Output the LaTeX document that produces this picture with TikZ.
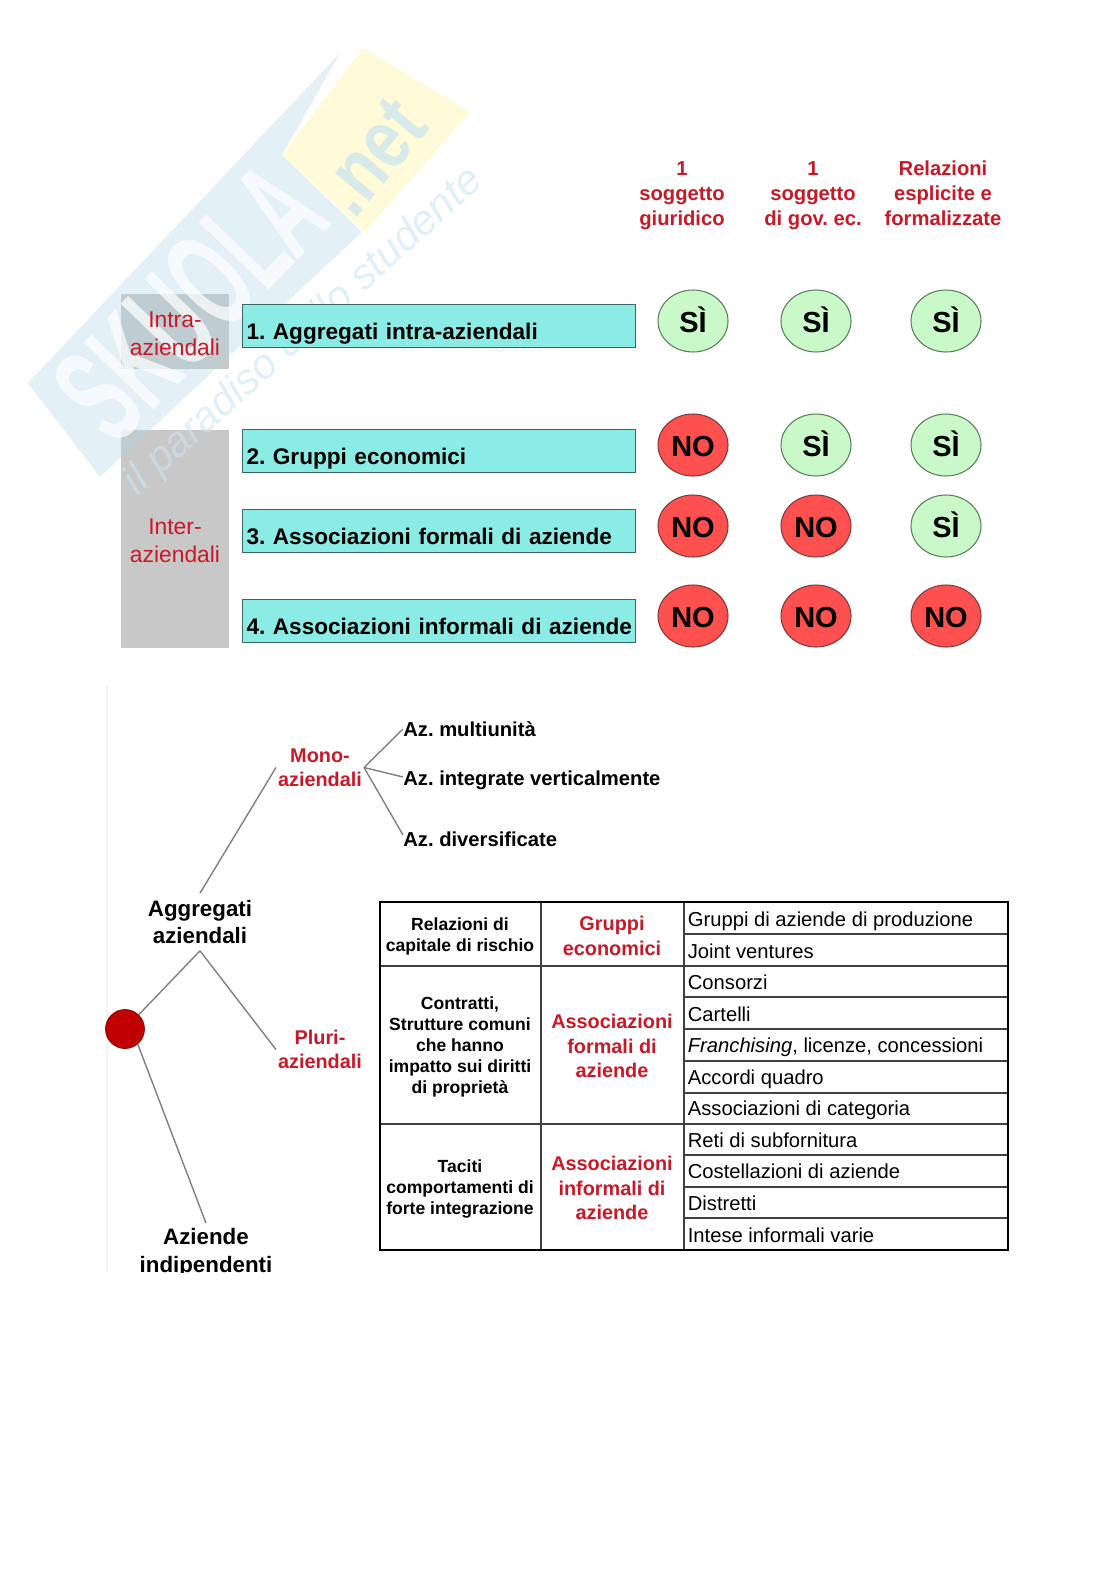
\documentclass[tikz,border=0pt]{standalone}
\usepackage{fontspec}
\setmainfont{Liberation Sans}
\usepackage{xcolor}
\usepackage{tikz}
\usetikzlibrary{shapes.geometric, positioning, calc}
\frenchspacing
\definecolor{myred}{RGB}{200,25,40}
\definecolor{mygrey}{RGB}{200,200,200}
\definecolor{myteal}{RGB}{139,236,229}
\definecolor{bordteal}{RGB}{60,100,100}
\definecolor{mygreen}{RGB}{201,249,201}
\definecolor{bordgreen}{RGB}{90,125,90}
\definecolor{mycoral}{RGB}{255,80,80}
\definecolor{bordcoral}{RGB}{125,60,60}
\definecolor{mydark}{RGB}{192,0,0}
\definecolor{wmblue}{RGB}{175,215,233}
\definecolor{wmyellow}{RGB}{255,245,160}
\definecolor{wmtext}{RGB}{205,228,240}
\tikzset{
  sidebox/.style={rectangle, minimum width=2.16cm, align=center,
    text=myred, font=\fontsize{13}{16.2}\selectfont, inner sep=0pt},
  block/.style={rectangle, draw=bordteal, fill=myteal, minimum width=7.86cm,
    minimum height=0.87cm, text width=7.7cm, align=left, text height=15.7pt,
    text depth=0pt, inner xsep=2pt, inner ysep=0pt, line width=0.5pt,
    font=\bfseries\fontsize{12.86}{15}\selectfont},
  header/.style={align=center, text=myred, font=\bfseries\fontsize{11.5}{14.2}\selectfont},
  sibox/.style={ellipse, draw=bordgreen, fill=mygreen, minimum width=1.4cm,
    minimum height=1.24cm, inner sep=0pt, line width=0.6pt, text height=13.5pt, text depth=0pt,
    font=\bfseries\fontsize{16.5}{18}\selectfont},
  nobox/.style={ellipse, draw=bordcoral, fill=mycoral, minimum width=1.4cm,
    minimum height=1.24cm, inner sep=0pt, line width=0.6pt, text height=13.5pt, text depth=0pt,
    font=\bfseries\fontsize{16.5}{18}\selectfont},
  rootdot/.style={circle, draw=red!50!black, fill=mydark, minimum size=0.78cm,
    inner sep=0pt, line width=0.4pt},
  treeblack/.style={align=center, inner sep=0pt, font=\bfseries\fontsize{12.7}{15.9}\selectfont},
  treered/.style={align=center, inner xsep=1pt, inner ysep=0pt, text=myred,
    font=\bfseries\fontsize{11.3}{13.8}\selectfont},
  leaf/.style={anchor=west, inner sep=0pt, font=\bfseries\fontsize{11.5}{14}\selectfont},
  branch/.style={line width=0.8pt, color=black!50},
  cause/.style={align=center, font=\bfseries\fontsize{10}{12}\selectfont},
  kind/.style={align=center, text=myred, font=\bfseries\fontsize{11.3}{13.9}\selectfont},
  item/.style={anchor=west, inner sep=0pt, text height=8pt, text depth=2.5pt,
    font=\fontsize{11.5}{14}\selectfont},
  tblframe/.style={line width=1.3pt, color=black},
  tblline/.style={line width=0.6pt, color=black!75}
}

\begin{document}
\begin{tikzpicture}[x=0.02cm, y=-0.02cm]
  \useasboundingbox (0,0) rectangle (1116,1579);
  % Grey side boxes
  \fill[mygrey] (121,294) rectangle (229,369);
  \fill[mygrey] (121,429.5) rectangle (229,648);
  % Watermark
  \fill[wmblue, opacity=0.35] (28,383) -- (340,53) -- (282,155) -- (362,232) -- (100,477) -- cycle;
  \fill[wmyellow, opacity=0.4] (363,48) -- (470,112) -- (365,232) -- (282,155) -- cycle;
  \node[rotate=46, text=white, opacity=0.7, font=\bfseries\fontsize{80}{80}\selectfont] (wmname) at (190,302) {\scalebox{0.53}[1]{SKUOLA}};
  \node[rotate=50, text=wmtext, opacity=0.75, font=\bfseries\fontsize{48}{48}\selectfont] (wmnet) at (372,157) {\scalebox{0.8}[1]{.net}};
  \node[rotate=42, text=wmtext, opacity=0.6, font=\itshape\fontsize{24}{24}\selectfont] (wmslogan) at (304,332) {il paradiso dello studente};
  % Side labels
  \node[sidebox] (intra) at (175,333.5) {Intra-\\aziendali};
  \node[sidebox] (inter) at (175,541) {Inter-\\aziendali};
  % Teal rows
  \node[block] (row1) at (439,326) {1. Aggregati intra-aziendali};
  \node[block] (row2) at (439,451) {2. Gruppi economici};
  \node[block] (row3) at (439,531) {3. Associazioni formali di aziende};
  \node[block] (row4) at (439,621) {\mbox{4. Associazioni informali di aziende}};
  % Column headers
  \node[header] (hjur) at (682,196) {1\\soggetto\\giuridico};
  \node[header] (hgov) at (813,196) {1\\soggetto\\di gov. ec.};
  \node[header] (hrel) at (943,193) {Relazioni\\esplicite e\\formalizzate};
  % Answers
  \node[sibox] (a11) at (693,321) {SÌ};
  \node[sibox] (a12) at (816,321) {SÌ};
  \node[sibox] (a13) at (946,321) {SÌ};
  \node[nobox] (a21) at (693,445) {NO};
  \node[sibox] (a22) at (816,445) {SÌ};
  \node[sibox] (a23) at (946,445) {SÌ};
  \node[nobox] (a31) at (693,526) {NO};
  \node[nobox] (a32) at (816,526) {NO};
  \node[sibox] (a33) at (946,526) {SÌ};
  \node[nobox] (a41) at (693,616) {NO};
  \node[nobox] (a42) at (816,616) {NO};
  \node[nobox] (a43) at (946,616) {NO};
  % Tree
  \draw[color=black!4, line width=0.8pt] (107,686) -- (107,1273);
  \node[rootdot] (root) at (125,1029) {};
  \node[treeblack, minimum height=1.14cm] (agg) at (200,922) {Aggregati\\aziendali};
  \node[treeblack, minimum height=1.18cm] (ind) at (206,1253) {Aziende\\indipendenti};
  \node[treered] (mono) at (320,767.5) {Mono-\\aziendali};
  \node[treered] (pluri) at (320,1049.5) {Pluri-\\aziendali};
  \node[leaf] (multi) at (403,729) {Az. multiunità};
  \node[leaf] (integr) at (403,780) {Az. integrate verticalmente};
  \node[leaf] (divers) at (403,839) {Az. diversificate};
  \draw[branch] (root) -- (agg.south);
  \draw[branch] (agg.south) -- (pluri.west);
  \draw[branch] (agg.north) -- (mono.west);
  \draw[branch] (root.-50) -- (ind.north);
  \draw[branch] (mono.east) -- (multi.west);
  \draw[branch] (mono.east) -- ($(integr.west)+(0,-3)$);
  \draw[branch] (mono.east) -- ($(divers.west)+(0,-4)$);
  % Bottom of the picture is cut here
  \fill[white] (100,1273) rectangle (320,1295);
  % Table
  \draw[tblline] (541,902) -- (541,1250);
  \draw[tblline] (684,902) -- (684,1250);
  \draw[tblline] (380,966) -- (1008,966);
  \draw[tblline] (380,1124) -- (1008,1124);
  \draw[tblline] (684,934) -- (1008,934);
  \draw[tblline] (684,997) -- (1008,997);
  \draw[tblline] (684,1029) -- (1008,1029);
  \draw[tblline] (684,1061) -- (1008,1061);
  \draw[tblline] (684,1093) -- (1008,1093);
  \draw[tblline] (684,1155) -- (1008,1155);
  \draw[tblline] (684,1187) -- (1008,1187);
  \draw[tblline] (684,1218) -- (1008,1218);
  \draw[tblframe] (380,902) rectangle (1008,1250);
  \node[cause] (c1) at (460,936.5) {Relazioni di\\capitale di rischio};
  \node[cause] (c2) at (460,1047) {Contratti,\\Strutture comuni\\che hanno\\impatto sui diritti\\di proprietà};
  \node[cause] (c3) at (460,1189) {Taciti\\comportamenti di\\forte integrazione};
  \node[kind] (k1) at (612,936) {Gruppi\\economici};
  \node[kind] (k2) at (612,1046) {Associazioni\\formali di\\aziende};
  \node[kind] (k3) at (612,1188) {Associazioni\\informali di\\aziende};
  \node[item] (i1) at (687.5,922) {Gruppi di aziende di produzione};
  \node[item] (i2) at (687.5,953.5) {Joint ventures};
  \node[item] (i3) at (687.5,985) {Consorzi};
  \node[item] (i4) at (687.5,1017) {Cartelli};
  \node[item] (i5) at (687.5,1048) {\textit{Franchising}, licenze, concessioni};
  \node[item] (i6) at (687.5,1079.5) {Accordi quadro};
  \node[item] (i7) at (687.5,1111) {Associazioni di categoria};
  \node[item] (i8) at (687.5,1143) {Reti di subfornitura};
  \node[item] (i9) at (687.5,1174) {Costellazioni di aziende};
  \node[item] (i10) at (687.5,1206) {Distretti};
  \node[item] (i11) at (687.5,1237.5) {Intese informali varie};
\end{tikzpicture}
\end{document}
